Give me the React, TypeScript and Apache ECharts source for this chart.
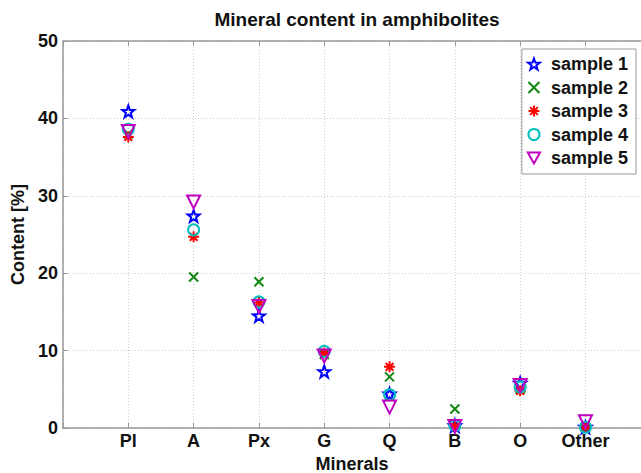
import React, { useEffect, useRef } from "react";
import * as echarts from "echarts";

const categories = ["Pl", "A", "Px", "G", "Q", "B", "O", "Other"];
const yTicks = [0, 10, 20, 30, 40, 50];
const seriesNames = ["sample 1", "sample 2", "sample 3", "sample 4", "sample 5"];
const sample1 = [40.9, 27.4, 14.5, 7.3, 4.4, 0.3, 5.8, 0.1];
const sample2 = [38.0, 19.5, 18.9, 9.5, 6.6, 2.45, 5.0, 0.1];
const sample3 = [37.6, 24.7, 16.2, 9.7, 7.9, 0.2, 4.8, 0.2];
const sample4 = [38.6, 25.6, 16.3, 9.9, 4.3, 0.3, 5.3, 0.1];
const sample5 = [38.3, 29.2, 15.7, 9.3, 2.7, 0.2, 5.5, 0.8];

const STAR =
  "path://M10 0L12.35 6.76L19.51 6.91L13.8 11.24L15.88 18.09L10 14L4.12 18.09L6.2 11.24L0.49 6.91L7.65 6.76Z";
const CROSS = "path://M0 0L10 10M10 0L0 10";
const ASTER = "path://M5 0L5 10M0 5L10 5M1.5 1.5L8.5 8.5M8.5 1.5L1.5 8.5";
const TRI = "path://M0 0L10 0L5 9Z";

const styles = [
  { symbol: STAR, size: 12, color: "#0000ff", w: 2 },
  { symbol: CROSS, size: 9, color: "#118811", w: 2 },
  { symbol: ASTER, size: 11, color: "#ff0000", w: 2 },
  { symbol: "circle", size: 11, color: "#00bfbf", w: 2 },
  { symbol: TRI, size: 13, color: "#bf00bf", w: 2 },
];

const FONT = "'Liberation Sans', Arial, Helvetica, sans-serif";

export default function App() {
  const ref = useRef<HTMLDivElement>(null);
  useEffect(() => {
    if (!ref.current) return;
    const chart = echarts.init(ref.current, null, { renderer: "svg" });
    const all = [sample1, sample2, sample3, sample4, sample5];
    const xMax = 8.85;
    const gridLine = { show: true, lineStyle: { color: "#cccccc", type: [1, 2] as any, width: 1 } };
    const txt = { fontFamily: FONT, fontWeight: "bold" as const, fontSize: 18, color: "#111" };
    chart.setOption({
      animation: false,
      backgroundColor: "#ffffff",
      title: {
        text: "Mineral content in amphibolites",
        left: 352,
        textAlign: "center",
        top: 5,
        textStyle: { ...txt, fontSize: 19 },
      },
      grid: { left: 63, top: 41, bottom: 45, right: 0, containLabel: false, outerBoundsMode: "none" },
      legend: {
        orient: "vertical",
        right: 5,
        top: 49,
        backgroundColor: "#ffffff",
        borderColor: "#999",
        borderWidth: 1,
        borderRadius: 0,
        padding: [6, 8, 7, 5],
        itemWidth: 24,
        itemHeight: 11,
        itemGap: 5.5,
        data: seriesNames,
        textStyle: { ...txt, fontSize: 18, lineHeight: 18, padding: [0, 0, 0, 0] },
      },
      xAxis: [
        {
          type: "value",
          min: 0,
          max: xMax,
          interval: 1,
          position: "bottom",
          name: "Minerals",
          nameLocation: "middle",
          nameGap: 24,
          nameTextStyle: txt,
          axisLine: { show: true, lineStyle: { color: "#999", width: 1.5 } },
          axisTick: { show: true, inside: true, length: 5, lineStyle: { color: "#999" } },
          axisLabel: {
            margin: 4,
            ...txt,
            showMaxLabel: false,
            formatter: (v: number) => {
              const i = Math.round(v);
              return Math.abs(v - i) < 1e-6 && i >= 1 && i <= categories.length ? categories[i - 1] : "";
            },
          },
          splitLine: gridLine,
        },
        {
          type: "value",
          min: 0,
          max: xMax,
          interval: 1,
          position: "top",
          axisLine: { show: true, lineStyle: { color: "#999", width: 1.5 } },
          axisTick: { show: true, inside: true, length: 5, lineStyle: { color: "#999" } },
          axisLabel: { show: false },
          splitLine: { show: false },
        },
      ],
      yAxis: {
        type: "value",
        min: 0,
        max: 50,
        interval: 10,
        name: "Content [%]",
        nameLocation: "middle",
        nameGap: 31,
        nameRotate: 90,
        nameTextStyle: txt,
        axisLine: { show: true, lineStyle: { color: "#999", width: 1.5 } },
        axisTick: { show: true, inside: true, length: 5, lineStyle: { color: "#999" } },
        axisLabel: {
          margin: 5,
          ...txt,
          formatter: (v: number) => (yTicks.includes(v) ? String(v) : ""),
        },
        splitLine: gridLine,
      },
      series: all.map((vals, s) => ({
        type: "scatter",
        name: seriesNames[s],
        xAxisIndex: 0,
        symbol: styles[s].symbol,
        symbolSize: styles[s].size,
        itemStyle: {
          color: "rgba(255,255,255,0)",
          borderColor: styles[s].color,
          borderWidth: styles[s].w,
          opacity: 1,
        },
        emphasis: { disabled: true },
        data: vals.map((v, i) => [i + 1, v]),
      })),
    });
    return () => chart.dispose();
  }, []);
  return (
    <div
      ref={ref}
      style={{ position: "fixed", left: 0, top: 0, width: 641, height: 473, background: "#fff" }}
    />
  );
}
